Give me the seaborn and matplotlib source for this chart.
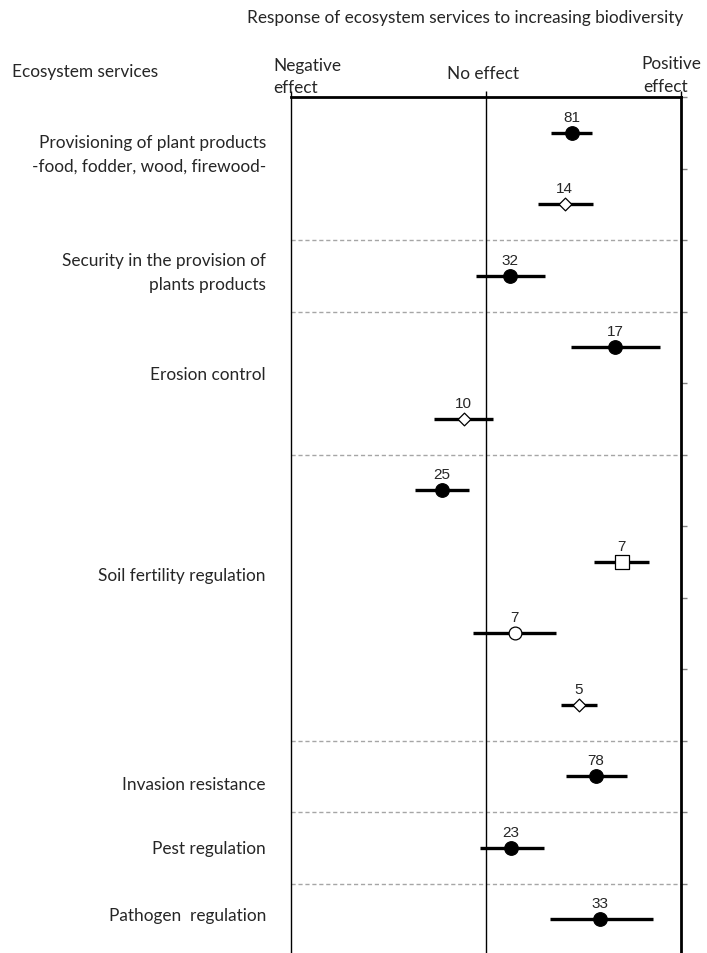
import matplotlib
matplotlib.use("Agg")
import matplotlib.pyplot as plt
import seaborn as sns
import pandas as pd
import numpy as np

# Effect sizes on a scale from -1 (negative effect) to +1 (positive effect)
n_studies = [81, 14, 32, 17, 10, 25, 7, 7, 5, 78, 23, 33]
effect_mean = [0.44, 0.405, 0.123, 0.662, -0.113, -0.226, 0.697, 0.149, 0.477, 0.564, 0.128, 0.585]
effect_low = [0.333, 0.267, -0.051, 0.436, -0.267, -0.364, 0.554, -0.067, 0.385, 0.41, -0.031, 0.328]
effect_high = [0.544, 0.549, 0.303, 0.892, 0.036, -0.087, 0.836, 0.359, 0.569, 0.723, 0.297, 0.856]
marker_kind = ["filled", "diamond", "filled", "filled", "diamond", "filled",
               "square", "open", "diamond", "filled", "filled", "filled"]

services = ["Provisioning of plant products\n-food, fodder, wood, firewood-",
            "Security in the provision of\nplants products",
            "Erosion control",
            "Soil fertility regulation",
            "Invasion resistance",
            "Pest regulation",
            "Pathogen  regulation"]
service_label_y = [0.30, 1.95, 3.37, 6.19, 9.11, 10.0, 10.94]
group_breaks = [1.5, 2.5, 4.5, 8.5, 9.5, 10.5]

df = pd.DataFrame({
    "row": np.arange(len(n_studies)),
    "n": n_studies,
    "mean": effect_mean,
    "low": effect_low,
    "high": effect_high,
    "kind": marker_kind,
})

sns.set_style("white")
plt.rcParams["font.family"] = ["Liberation Sans", "DejaVu Sans"]

fig = plt.figure(figsize=(7.07, 9.54), dpi=100)
ax = fig.add_axes([290.5 / 707, 0.0, (681 - 290.5) / 707, 1 - 98 / 954])

ax.set_xlim(-1, 1)
ax.set_ylim(11.47, -0.5)

# group separators and the zero line
for yb in group_breaks:
    ax.axhline(yb, color="#a6a6a6", lw=1.0, ls=(0, (3, 2)), zorder=1)
ax.axvline(0, color="black", lw=1.0, zorder=1)

# confidence intervals
ax.hlines(df["row"], df["low"], df["high"], color="black", lw=2.4, zorder=2)

styles = {
    "filled": dict(marker="o", s=95, facecolor="black", edgecolor="black"),
    "open": dict(marker="o", s=85, facecolor="white", edgecolor="black"),
    "diamond": dict(marker="D", s=42, facecolor="white", edgecolor="black"),
    "square": dict(marker="s", s=88, facecolor="white", edgecolor="black"),
}
for kind, st in styles.items():
    sub = df[df["kind"] == kind]
    sns.scatterplot(data=sub, x="mean", y="row", ax=ax, legend=False,
                    linewidth=0.9, zorder=3, **st)

for _, r in df.iterrows():
    ax.annotate(str(r["n"]), (r["mean"], r["row"]), xytext=(0, 6.5),
                textcoords="offset points", ha="center", va="bottom",
                fontsize=11, family=["Liberation Sans"])

# frame
ax.spines["left"].set_linewidth(1.0)
ax.spines["top"].set_linewidth(2.0)
ax.spines["right"].set_linewidth(2.0)
ax.spines["bottom"].set_visible(False)
for sp in ax.spines.values():
    sp.set_color("black")

ax.set_xticks([-1, 0, 1])
ax.xaxis.tick_top()
ax.tick_params(axis="x", direction="out", length=4, width=1, color="black",
               labeltop=False, labelbottom=False)
ax.set_xlabel("")
ax.set_ylabel("")
ax.set_yticks(np.arange(-0.5, 11, 1.0))
ax.yaxis.tick_right()
ax.tick_params(axis="y", direction="out", length=4, width=1, color="#808080",
               labelright=False, labelleft=False)

label_font = ["Lato", "DejaVu Sans"]
fs = 12.4
trans = ax.get_yaxis_transform()
for text, yv in zip(services, service_label_y):
    ax.text(-(290.5 - 266) / (681 - 290.5), yv, text, transform=trans,
            ha="right", va="center", fontsize=fs, family=label_font,
            linespacing=1.6)

fig.text(273 / 707, 1 - 66 / 954, "Negative", ha="left", va="center", fontsize=fs, family=label_font)
fig.text(273 / 707, 1 - 88 / 954, "effect", ha="left", va="center", fontsize=fs, family=label_font)
fig.text(483 / 707, 1 - 74 / 954, "No effect", ha="center", va="center", fontsize=fs, family=label_font)
fig.text(641 / 707, 1 - 64 / 954, "Positive", ha="left", va="center", fontsize=fs, family=label_font)
fig.text(643 / 707, 1 - 87 / 954, "effect", ha="left", va="center", fontsize=fs, family=label_font)
fig.text(12 / 707, 1 - 72 / 954, "Ecosystem services", ha="left", va="center", fontsize=fs, family=label_font)
fig.text(465 / 707, 1 - 18 / 954, "Response of ecosystem services to increasing biodiversity",
         ha="center", va="center", fontsize=fs, family=label_font)

fig.savefig("out.png", dpi=100)
